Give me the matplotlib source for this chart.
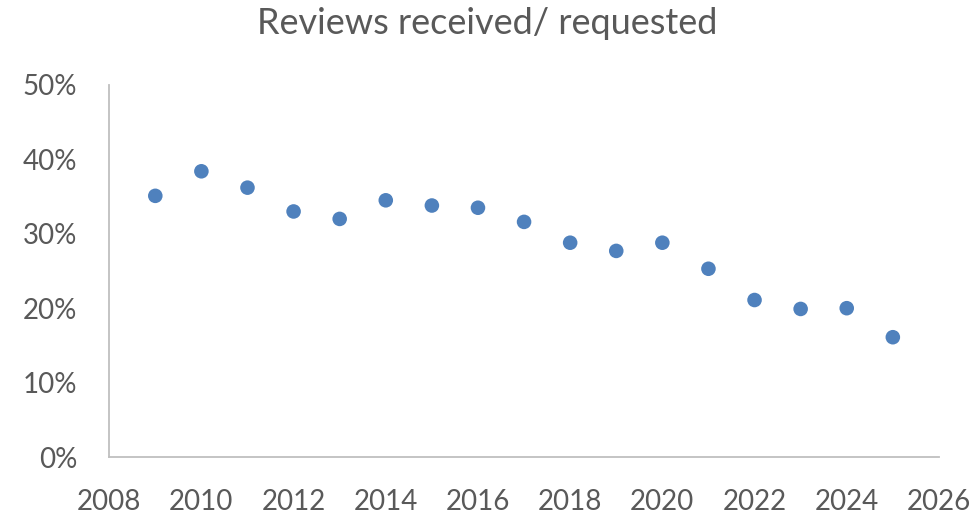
import matplotlib.pyplot as plt
from matplotlib.ticker import MultipleLocator, FuncFormatter

years = [2009, 2010, 2011, 2012, 2013, 2014, 2015, 2016, 2017,
         2018, 2019, 2020, 2021, 2022, 2023, 2024, 2025]
ratio = [35.1, 38.4, 36.2, 33.0, 32.0, 34.5, 33.8, 33.5, 31.6,
         28.8, 27.7, 28.8, 25.3, 21.1, 19.9, 20.0, 16.1]

text_color = '#595959'
plt.rcParams['font.family'] = ['Lato', 'DejaVu Sans']

fig = plt.figure(figsize=(9.75, 5.15), dpi=100)
ax = fig.add_axes([0.112, 0.1126, 0.851, 0.7224])

ax.scatter(years, ratio, s=110, color='#4F81BD', edgecolors='none', zorder=3)

ax.set_xlim(2008, 2026)
ax.set_ylim(0, 50)
ax.xaxis.set_major_locator(MultipleLocator(2))
ax.yaxis.set_major_locator(MultipleLocator(10))
ax.yaxis.set_major_formatter(FuncFormatter(lambda v, p: f"{v:.0f}%"))

for side in ['top', 'right']:
    ax.spines[side].set_visible(False)
for side in ['left', 'bottom']:
    ax.spines[side].set_color('#BFBFBF')
    ax.spines[side].set_linewidth(1.3)

ax.tick_params(axis='both', length=0, labelsize=20, colors=text_color)
ax.tick_params(axis='y', pad=23)
ax.tick_params(axis='x', pad=23)

fig.text(0.5, 0.955, "Reviews received/ requested", ha='center', va='center',
         fontsize=26, color=text_color)

fig.savefig('out.png', dpi=100)
